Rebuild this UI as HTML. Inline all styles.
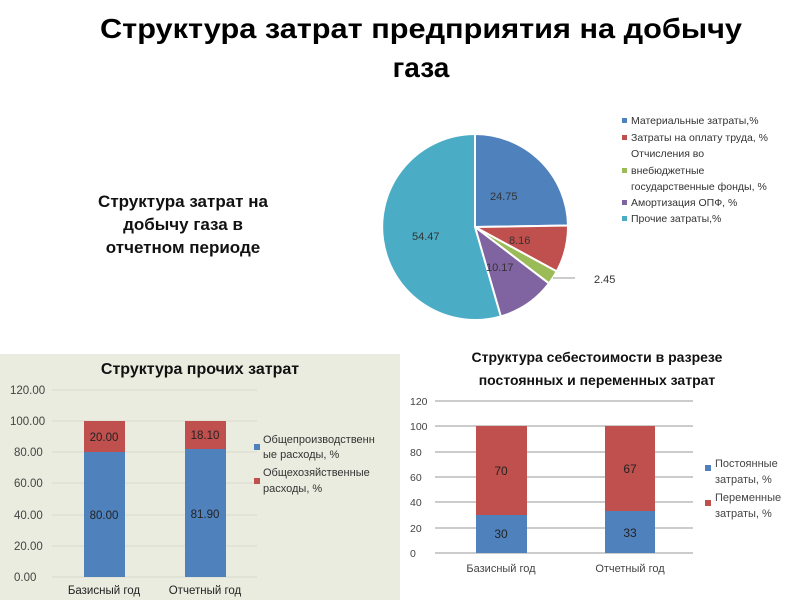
<!DOCTYPE html>
<html><head><meta charset="utf-8"><style>
html,body{margin:0;padding:0;background:#fff}
svg{display:block;font-family:"Liberation Sans","DejaVu Sans",sans-serif}
</style></head><body>
<svg width="800" height="600" viewBox="0 0 800 600">
<rect width="800" height="600" fill="#fff"/>
<text x="421" y="38" font-size="28" font-weight="bold" text-anchor="middle" textLength="642" lengthAdjust="spacingAndGlyphs">Структура затрат предприятия на добычу</text>
<text x="421" y="77" font-size="28" font-weight="bold" text-anchor="middle">газа</text>
<g font-size="17" font-weight="bold" text-anchor="middle" fill="#111">
<text x="183" y="207">Структура затрат на</text>
<text x="183" y="230">добычу газа в</text>
<text x="183" y="253">отчетном периоде</text>
</g>
<!-- pie -->
<g stroke="#fff" stroke-width="2">
<path d="M475,227 L475,134 A93,93 0 0 1 568,225.5 Z" fill="#4f81bd"/>
<path d="M475,227 L568,225.5 A93,93 0 0 1 556.7,271.4 Z" fill="#c0504d"/>
<path d="M475,227 L556.7,271.4 A93,93 0 0 1 549,283.4 Z" fill="#9bbb59"/>
<path d="M475,227 L549,283.4 A93,93 0 0 1 500.8,316.4 Z" fill="#8064a2"/>
<path d="M475,227 L500.8,316.4 A93,93 0 1 1 475,134 Z" fill="#4bacc6"/>
</g>
<line x1="553" y1="278" x2="575" y2="278" stroke="#999" stroke-width="1"/>
<g font-size="11" fill="#333">
<text x="490" y="200">24.75</text>
<text x="509" y="244">8.16</text>
<text x="486" y="271">10.17</text>
<text x="412" y="240">54.47</text>
<text x="594" y="283">2.45</text>
</g>
<g font-size="10.5" fill="#333">
<rect x="622" y="118" width="5" height="5" fill="#4f81bd"/><text x="631" y="124">Материальные затраты,%</text>
<rect x="622" y="135" width="5" height="5" fill="#c0504d"/><text x="631" y="141">Затраты на оплату труда, %</text>
<text x="631" y="157">Отчисления во</text>
<rect x="622" y="168" width="5" height="5" fill="#9bbb59"/><text x="631" y="174">внебюджетные</text>
<text x="631" y="190">государственные фонды, %</text>
<rect x="622" y="200" width="5" height="5" fill="#8064a2"/><text x="631" y="206">Амортизация ОПФ, %</text>
<rect x="622" y="216" width="5" height="5" fill="#4bacc6"/><text x="631" y="222">Прочие затраты,%</text>
</g>
<!-- chart 1 -->
<rect x="0" y="354" width="400" height="246" fill="#eaecdf"/>
<text x="200" y="374" font-size="16" font-weight="bold" text-anchor="middle" fill="#111">Структура прочих затрат</text>
<g stroke="#d8dacd" stroke-width="1">
<line x1="52" y1="390" x2="257" y2="390"/><line x1="52" y1="421" x2="257" y2="421"/>
<line x1="52" y1="452" x2="257" y2="452"/><line x1="52" y1="483" x2="257" y2="483"/>
<line x1="52" y1="515" x2="257" y2="515"/><line x1="52" y1="546" x2="257" y2="546"/>
<line x1="52" y1="577" x2="257" y2="577"/>
</g>
<g font-size="11.5" fill="#444">
<text x="10" y="394">120.00</text><text x="10" y="425">100.00</text><text x="14" y="456">80.00</text>
<text x="14" y="487">60.00</text><text x="14" y="519">40.00</text><text x="14" y="550">20.00</text><text x="14" y="581">0.00</text>
</g>
<rect x="84" y="421" width="41" height="31" fill="#c0504d"/>
<rect x="84" y="452" width="41" height="125" fill="#4f81bd"/>
<rect x="185" y="421" width="41" height="28" fill="#c0504d"/>
<rect x="185" y="449" width="41" height="128" fill="#4f81bd"/>
<g font-size="11.5" fill="#222" text-anchor="middle">
<text x="104" y="441">20.00</text><text x="104" y="519">80.00</text>
<text x="205" y="439">18.10</text><text x="205" y="518">81.90</text>
<text x="104" y="594">Базисный год</text><text x="205" y="594">Отчетный год</text>
</g>
<g font-size="11" fill="#333">
<rect x="254" y="444" width="6" height="6" fill="#4f81bd"/>
<text x="263" y="443">Общепроизводственн</text><text x="263" y="458">ые расходы, %</text>
<rect x="254" y="478" width="6" height="6" fill="#c0504d"/>
<text x="263" y="476">Общехозяйственные</text><text x="263" y="492">расходы, %</text>
</g>
<!-- chart 2 -->
<g font-size="14" font-weight="bold" text-anchor="middle" fill="#111">
<text x="597" y="362">Структура себестоимости в разрезе</text>
<text x="597" y="385">постоянных и переменных затрат</text>
</g>
<g stroke="#999" stroke-width="1">
<line x1="435" y1="401" x2="693" y2="401"/><line x1="435" y1="426" x2="693" y2="426"/>
<line x1="435" y1="452" x2="693" y2="452"/><line x1="435" y1="477" x2="693" y2="477"/>
<line x1="435" y1="502" x2="693" y2="502"/><line x1="435" y1="528" x2="693" y2="528"/>
<line x1="435" y1="553" x2="693" y2="553"/>
</g>
<g font-size="10.5" fill="#444">
<text x="410" y="405">120</text><text x="410" y="430">100</text><text x="410" y="456">80</text>
<text x="410" y="481">60</text><text x="410" y="506">40</text><text x="410" y="532">20</text><text x="410" y="557">0</text>
</g>
<rect x="476" y="426" width="51" height="89" fill="#c0504d"/>
<rect x="476" y="515" width="51" height="38" fill="#4f81bd"/>
<rect x="605" y="426" width="50" height="85" fill="#c0504d"/>
<rect x="605" y="511" width="50" height="42" fill="#4f81bd"/>
<g font-size="12" fill="#222" text-anchor="middle">
<text x="501" y="475">70</text><text x="501" y="538">30</text>
<text x="630" y="473">67</text><text x="630" y="537">33</text>
</g>
<g font-size="11" fill="#444" text-anchor="middle">
<text x="501" y="572">Базисный год</text><text x="630" y="572">Отчетный год</text>
</g>
<g font-size="11" fill="#444">
<rect x="705" y="465" width="6" height="6" fill="#4f81bd"/>
<text x="715" y="467">Постоянные</text><text x="715" y="483">затраты, %</text>
<rect x="705" y="500" width="6" height="6" fill="#c0504d"/>
<text x="715" y="501">Переменные</text><text x="715" y="517">затраты, %</text>
</g>
</svg>
</body></html>
